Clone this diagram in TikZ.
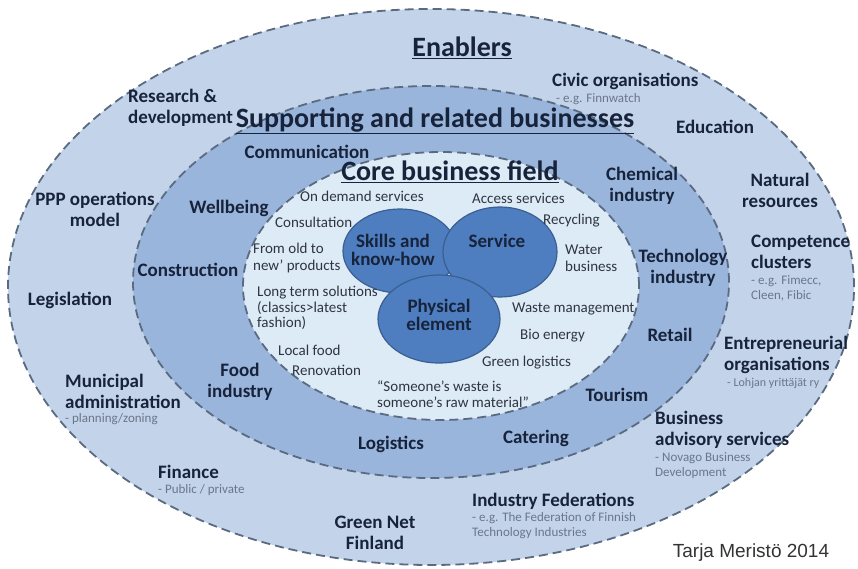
\documentclass[tikz,border=0pt]{standalone}
\usepackage{fontspec}
\setmainfont{Carlito}
\newfontfamily\creditfont{Liberation Sans}
\usepackage{xcolor}
\usetikzlibrary{positioning, shapes.geometric}
\definecolor{outerfill}{HTML}{C2D3EA}
\definecolor{middlefill}{HTML}{9AB5DC}
\definecolor{innerfill}{HTML}{DDEBF7}
\definecolor{vennfill}{HTML}{4E7EBF}
\definecolor{vennline}{HTML}{3A5F90}
\definecolor{ringline}{HTML}{5A6A80}
\definecolor{textnavy}{HTML}{17233B}
\definecolor{coretext}{HTML}{2F3540}
\definecolor{subgrey}{HTML}{6B7689}
\tikzset{
  ring/.style={draw=ringline, line width=1.8pt, dash pattern=on 9pt off 5pt},
  ringtitle/.style={font=\fontsize{28}{32}\selectfont\bfseries, text=textnavy, inner sep=0pt},
  item/.style={font=\fontsize{19}{21}\selectfont\bfseries, text=textnavy, align=center, inner sep=0pt},
  itemleft/.style={item, align=left, anchor=west},
  sub/.style={font=\fontsize{13}{15}\selectfont, text=subgrey, align=left, anchor=west, inner sep=0pt},
  coreitem/.style={font=\fontsize{15}{17}\selectfont, text=coretext, align=left, anchor=west, inner sep=0pt},
  venn/.style={ellipse, draw=vennline, line width=1.2pt, fill=vennfill, inner sep=0pt},
  vennlabel/.style={font=\fontsize{19}{17.5}\selectfont\bfseries, text=textnavy, align=center, inner sep=0pt}
}
\begin{document}
\begin{tikzpicture}[x=1pt, y=-1pt]
    \useasboundingbox (0,0) rectangle (858,569);
    % rings
    \draw[ring, fill=outerfill] (431,287) ellipse [x radius=423pt, y radius=278pt];
    \draw[ring, fill=middlefill] (431,282) ellipse [x radius=298pt, y radius=196pt];
    \draw[ring, fill=innerfill] (441,286) ellipse [x radius=198pt, y radius=134pt];

    % core venn
    \node[venn, minimum width=114pt, minimum height=84pt] (skills) at (400,251) {};
    \node[venn, minimum width=114pt, minimum height=90pt] (service) at (500,252) {};
    \node[venn, minimum width=122pt, minimum height=88pt] (physical) at (439,319) {};
    \node[vennlabel] (skillstext) at ([xshift=-7pt, yshift=1pt]skills.center) {Skills and\\know-how};
    \node[vennlabel] (servicetext) at ([xshift=-3pt, yshift=11pt]service.center) {Service};
    \node[vennlabel] (physicaltext) at ([yshift=4pt]physical.center) {Physical\\element};

    % titles
    \node[ringtitle] (enablers) at (462,48) {\underline{Enablers}};
    \node[ringtitle] (supporting) at (435,121) {\underline{Supporting and related businesses}};
    \node[ringtitle] (corefield) at (450,172) {\underline{Core business field}};

    % enablers
    \node[itemleft] (research) at (128,108) {Research \&\\development};
    \node[itemleft] (civic) at (552,81) {Civic organisations};
    \node[sub] (civicsub) at (556,99) {- e.g. Finnwatch};
    \node[item] (education) at (715,127) {Education};
    \node[item] (natural) at (780,190) {Natural\\resources};
    \node[item] (ppp) at (95,209) {PPP operations\\model};
    \node[item] (legislation) at (70,300) {Legislation};
    \node[itemleft] (competence) at (751,252) {Competence\\clusters};
    \node[sub] (competencesub) at (751,288.5) {- e.g. Fimecc,\\Cleen, Fibic};
    \node[itemleft] (entrepreneur) at (724,355) {Entrepreneurial\\organisations};
    \node[sub, font=\fontsize{12}{15}\selectfont] (entrepreneursub) at (727,383) {- Lohjan yrittäjät ry};
    \node[itemleft] (municipal) at (65,391) {Municipal\\administration};
    \node[sub] (municipalsub) at (65,419) {- planning/zoning};
    \node[itemleft] (advisory) at (655,430) {Business\\advisory services};
    \node[sub] (advisorysub) at (655,466) {- Novago Business\\Development};
    \node[itemleft] (finance) at (158,472) {Finance};
    \node[sub] (financesub) at (158,490) {- Public / private};
    \node[item] (greennet) at (375,533) {Green Net\\Finland};
    \node[itemleft] (federations) at (472,501) {Industry Federations};
    \node[sub] (federationssub) at (472,526) {- e.g. The Federation of Finnish\\Technology Industries};

    % supporting
    \node[item] (communication) at (307,152) {Communication};
    \node[item] (chemical) at (642,186) {Chemical\\industry};
    \node[item] (wellbeing) at (229,208) {Wellbeing};
    \node[item] (construction) at (188,270) {Construction};
    \node[item] (technology) at (683,268) {Technology\\industry};
    \node[item] (retail) at (670,335) {Retail};
    \node[item] (food) at (240,382) {Food\\industry};
    \node[item] (tourism) at (617,395) {Tourism};
    \node[item] (catering) at (536,438) {Catering};
    \node[item] (logistics) at (391,444) {Logistics};

    % core field
    \node[coreitem] (ondemand) at (300,196) {On demand services};
    \node[coreitem] (access) at (472,198) {Access services};
    \node[coreitem] (consultation) at (275,222) {Consultation};
    \node[coreitem] (recycling) at (543,221) {Recycling};
    \node[coreitem] (oldnew) at (253,258) {From old to\\new’ products};
    \node[coreitem] (water) at (565,258) {Water\\business};
    \node[coreitem, font=\fontsize{15}{15.5}\selectfont] (longterm) at (257,308) {Long term solutions\\(classics>latest\\fashion)};
    \node[coreitem] (waste) at (512,309) {Waste management};
    \node[coreitem] (bioenergy) at (520,336) {Bio energy};
    \node[coreitem] (localfood) at (278,350) {Local food};
    \node[coreitem] (greenlog) at (482,363) {Green logistics};
    \node[coreitem] (renovation) at (292,370) {Renovation};
    \node[coreitem, font=\fontsize{15}{16}\selectfont] (quote) at (377,394) {“Someone’s waste is\\someone’s raw material”};

    \node[font=\creditfont\fontsize{19}{22}\selectfont, text=black!80, inner sep=0pt] (credit) at (751,553) {Tarja Meristö 2014};
\end{tikzpicture}
\end{document}
